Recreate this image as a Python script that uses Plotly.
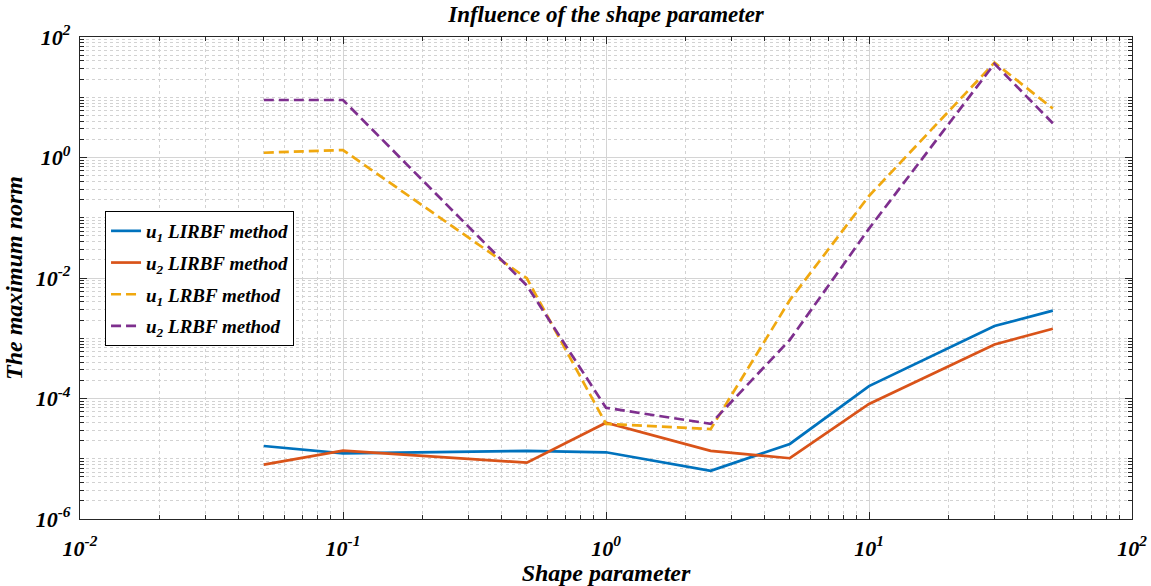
import plotly.graph_objects as go

# ---- data ----
shape_param = [0.05, 0.1, 0.5, 1, 2.5, 5, 10, 30, 50]
u1_lirbf = [1.63e-5, 1.23e-5, 1.35e-5, 1.28e-5, 6.3e-6, 1.76e-5, 1.61e-4, 1.6e-3, 2.87e-3]
u2_lirbf = [7.97e-6, 1.36e-5, 8.6e-6, 3.96e-5, 1.35e-5, 1.02e-5, 8.1e-5, 7.9e-4, 1.44e-3]
u1_lrbf = [1.2, 1.33, 0.0099, 3.8e-5, 3.1e-5, 4.3e-3, 0.23, 37.5, 6.5]
u2_lrbf = [9.0, 9.0, 0.0075, 7.0e-5, 3.8e-5, 9.4e-4, 0.066, 36.0, 3.7]

x_tickvals = [1e-2, 1e-1, 1, 10, 100]
x_ticktext = ["10<sup>-2</sup>", "10<sup>-1</sup>", "10<sup>0</sup>", "10<sup>1</sup>", "10<sup>2</sup>"]
y_tickvals = [1e-6, 1e-4, 1e-2, 1, 100]
y_ticktext = ["10<sup>-6</sup>", "10<sup>-4</sup>", "10<sup>-2</sup>", "10<sup>0</sup>", "10<sup>2</sup>"]

series_names = ["u<sub>1</sub> LIRBF method", "u<sub>2</sub> LIRBF method",
                "u<sub>1</sub> LRBF method", "u<sub>2</sub> LRBF method"]

FONT = "Liberation Serif"
colors = ["#0072BD", "#D95319", "#F0A80F", "#7E2F8E"]
dashes = ["solid", "solid", "10px,5px", "10px,5px"]

fig = go.Figure()
for i, (name, ys, c, d) in enumerate(zip(series_names, [u1_lirbf, u2_lirbf, u1_lrbf, u2_lrbf], colors, dashes)):
    fig.add_trace(go.Scatter(x=shape_param, y=ys, mode="lines", name=name,
                             legendgroup=f"g{i}",
                             line=dict(color=c, width=2.7, dash=d)))

minor_x = [m * 10 ** k for k in range(-2, 2) for m in range(2, 10)]
minor_y = [m * 10 ** k for k in range(-6, 2) for m in range(1, 10)
           if not (m == 1 and k % 2 == 0)]

tickfont = dict(family=FONT, size=22, color="black", weight="bold", style="italic")
titlefont = dict(family=FONT, size=24, color="black", weight="bold", style="italic")
axis_common = dict(
    type="log", showline=True, linecolor="#262626", linewidth=1.2, mirror="ticks",
    ticks="inside", ticklen=7, tickcolor="#262626", tickwidth=1,
    showgrid=True, gridcolor="#d4d4d4", gridwidth=1, zeroline=False,
    tickfont=tickfont, automargin=False,
    minor=dict(ticks="inside", ticklen=4, tickcolor="#262626", showgrid=True,
               gridcolor="#d2d2d2", griddash="dot", gridwidth=1),
)

fig.update_xaxes(**axis_common, range=[-2, 2], tickmode="array",
                 tickvals=x_tickvals, ticktext=x_ticktext, ticklabelstandoff=9,
                 title=dict(text="Shape parameter", font=titlefont, standoff=8))
fig.update_xaxes(minor_tickvals=minor_x)
fig.update_yaxes(**axis_common, range=[-6, 2], tickmode="array",
                 tickvals=y_tickvals, ticktext=y_ticktext, ticklabelstandoff=4,
                 title=dict(text="The maximum norm", font=titlefont, standoff=6))
fig.update_yaxes(minor_tickvals=minor_y)

fig.update_layout(
    width=1151, height=586,
    margin=dict(l=80, r=19, t=37, b=67),
    paper_bgcolor="white", plot_bgcolor="white",
    title=dict(text="Influence of the shape parameter", x=0.5, xref="paper",
               y=0.976, yanchor="middle",
               font=dict(family=FONT, size=23, color="black", weight="bold", style="italic")),
    legend=dict(x=0.0238, y=0.639, xanchor="left", yanchor="top",
                bgcolor="white", bordercolor="black", borderwidth=1,
                font=dict(family=FONT, size=19, color="black", weight="bold", style="italic"),
                tracegroupgap=4, itemwidth=30),
    showlegend=True,
)

fig.write_html("out.html")
